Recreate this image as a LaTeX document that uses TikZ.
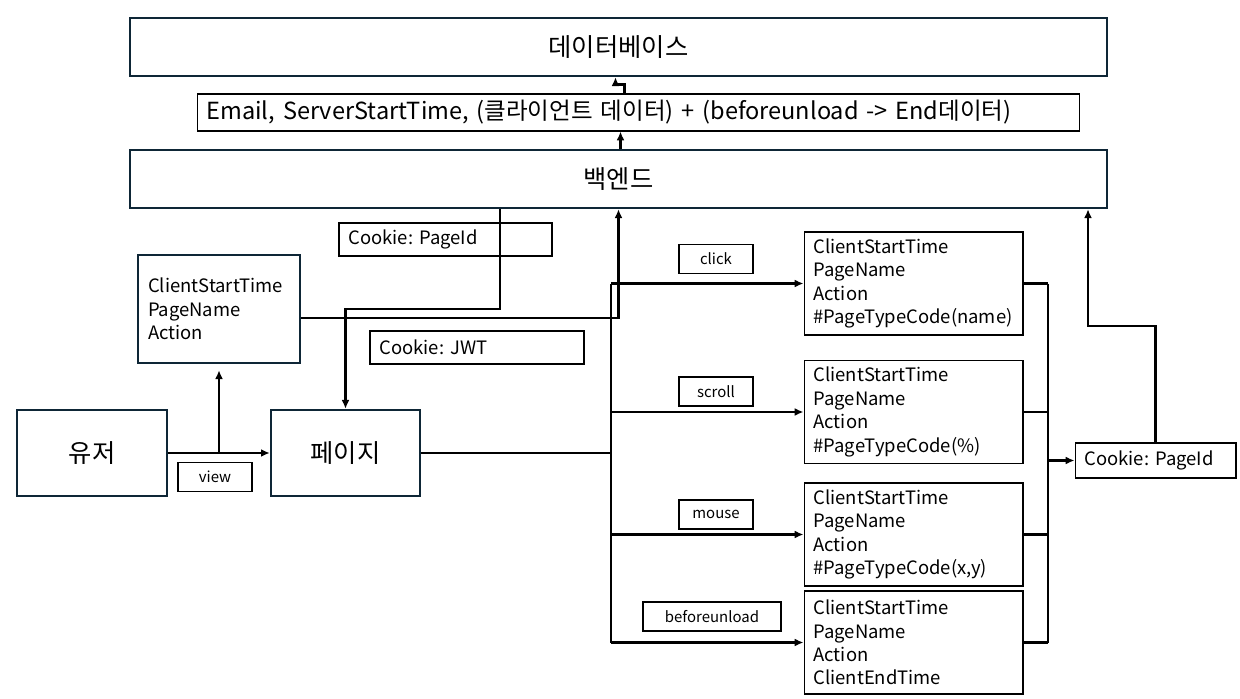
\documentclass[tikz,border=0pt]{standalone}
\usepackage{fontspec}
\setmainfont{Noto Sans CJK KR}
\frenchspacing
\usetikzlibrary{arrows.meta,positioning}
\definecolor{navy}{RGB}{14,38,54}

\begin{document}
\begin{tikzpicture}[
  x=0.02cm, y=-0.02cm,
  bigbox/.style={draw=navy,line width=1.4pt,inner sep=0pt,
    font=\fontsize{14.4pt}{17pt}\selectfont},
  infobox/.style={draw,line width=0.6pt,align=left,inner xsep=0.19cm,inner ysep=0pt,
    font=\fontsize{10.5pt}{13.3pt}\selectfont},
  tagbox/.style={draw,line width=0.6pt,inner sep=0pt,minimum width=1.48cm,minimum height=0.58cm,
    font=\fontsize{8.5pt}{10pt}\selectfont},
  conn/.style={line width=1.25pt},
  arr/.style={conn,-{Latex[length=5pt,width=4.5pt]}}
]
\useasboundingbox (0,0) rectangle (1240,699);

% ------------------------------------------------------------
% Server side: database, payload, backend
% ------------------------------------------------------------
\node[bigbox,minimum width=19.54cm,minimum height=1.16cm] (db) at (618.5,47) {데이터베이스};
\node[infobox,text width=17.28cm,minimum height=0.74cm,font=\fontsize{13.4pt}{15pt}\selectfont]
  (payload) at (638.5,112.5) {Email, ServerStartTime, (클라이언트 데이터) + (beforeunload -> End데이터)};
\node[bigbox,minimum width=19.54cm,minimum height=1.16cm] (backend) at (618.5,179) {백엔드};

% ------------------------------------------------------------
% Client side: user, page, first view data
% ------------------------------------------------------------
\node[infobox,text width=3.88cm,minimum height=0.66cm] (pageid) at (445.5,239.5) {Cookie: PageId};
\node[bigbox,draw=navy,align=left,inner xsep=0.2cm,text width=2.84cm,minimum height=2.16cm,
  font=\fontsize{10.5pt}{13.3pt}\selectfont]
  (client) at (219,309) {ClientStartTime\\PageName\\Action\\[-0.1cm]};
\node[infobox,text width=3.9cm,minimum height=0.66cm] (jwt) at (477,347.5) {Cookie: JWT};
\node[bigbox,minimum width=3cm,minimum height=1.72cm] (user) at (92,453) {유저};
\node[bigbox,minimum width=2.98cm,minimum height=1.72cm] (page) at (345.5,453) {페이지};
\node[tagbox] (view) at (215,477) {view};

% ------------------------------------------------------------
% Events and the data they send
% ------------------------------------------------------------
\node[tagbox] (click) at (716,259) {click};
\node[tagbox] (scroll) at (716,391.5) {scroll};
\node[tagbox] (mouse) at (716,514.5) {mouse};
\node[tagbox,minimum width=2.76cm] (unload) at (712,616.5) {beforeunload};

\node[infobox,text width=4cm,minimum height=2.06cm] (evclick) at (913.5,283.5)
  {ClientStartTime\\PageName\\Action\\\#PageTypeCode(name)};
\node[infobox,text width=4cm,minimum height=2.06cm] (evscroll) at (913.5,412)
  {ClientStartTime\\PageName\\Action\\\#PageTypeCode(\%)};
\node[infobox,text width=4cm,minimum height=2.06cm] (evmouse) at (913.5,534.5)
  {ClientStartTime\\PageName\\Action\\\#PageTypeCode(x,y)};
\node[infobox,text width=4cm,minimum height=2.06cm] (evunload) at (913.5,642.5)
  {ClientStartTime\\PageName\\Action\\ClientEndTime};

\node[infobox,text width=2.84cm,minimum height=0.7cm] (pageidR) at (1155.5,460.5) {Cookie: PageId};

% ------------------------------------------------------------
% Connectors
% ------------------------------------------------------------
\coordinate (lbus) at (611,0);
\coordinate (rbus) at (1048,0);
\coordinate (drop) at (500,309);
\coordinate (ret) at (1088,326);

\draw[arr] (backend.north -| payload.south) ++(-18,0) coordinate (bk) -- (bk |- payload.south);
\draw[arr] (payload.north -| db.south) ++(6,0) -- ++(0,-9) -| ([xshift=-0.06cm]db.south);

\draw[arr] (backend.south -| drop) -- (drop) -| (page.north);
\draw[arr] ([yshift=-0.18cm]client.east) -| (backend.south);

\draw[arr] (user) -- (page);
\draw[arr,shorten >=0.12cm] (user.east -| client.south) -- (client.south);

% left bus from the page to every event
\draw[conn] (page.east) -- (page.east -| lbus);
\draw[conn] (evclick.west -| lbus) -- (evunload.west -| lbus);
\foreach \ev in {evclick,evscroll,evmouse,evunload}
  \draw[arr] (\ev.west -| lbus) -- (\ev.west);

% right bus to the cookie and back to the backend
\foreach \ev in {evclick,evscroll,evmouse,evunload}
  \draw[conn] (\ev.east) -- (\ev.east -| rbus);
\draw[conn] (evclick.east -| rbus) -- (evunload.east -| rbus);
\draw[arr] (pageidR.west -| rbus) -- (pageidR.west);
\draw[arr] (pageidR.north) |- (ret) -- (ret |- backend.south);

\end{tikzpicture}
\end{document}
